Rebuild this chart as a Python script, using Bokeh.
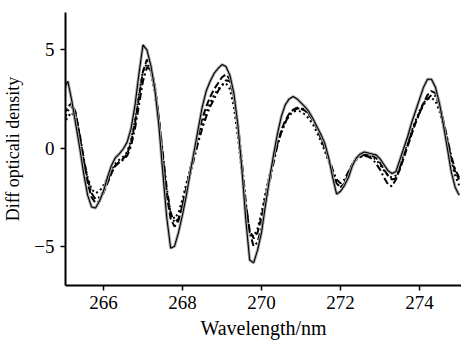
from bokeh.plotting import figure
from bokeh.models import Range1d, FixedTicker, ColumnDataSource
from bokeh.embed import file_html
from bokeh.resources import INLINE

wavelength = [
    265.0, 265.1, 265.2, 265.3, 265.4, 265.5, 265.6, 265.7, 265.8, 265.9,
    266.0, 266.1, 266.2, 266.3, 266.4, 266.5, 266.6, 266.7, 266.8, 266.9,
    267.0, 267.1, 267.2, 267.3, 267.4, 267.5, 267.6, 267.7, 267.8, 267.9,
    268.0, 268.1, 268.2, 268.3, 268.4, 268.5, 268.6, 268.7, 268.8, 268.9,
    269.0, 269.1, 269.2, 269.3, 269.4, 269.5, 269.6, 269.7, 269.8, 269.9,
    270.0, 270.1, 270.2, 270.3, 270.4, 270.5, 270.6, 270.7, 270.8, 270.9,
    271.0, 271.1, 271.2, 271.3, 271.4, 271.5, 271.6, 271.7, 271.8, 271.9,
    272.0, 272.1, 272.2, 272.3, 272.4, 272.5, 272.6, 272.7, 272.8, 272.9,
    273.0, 273.1, 273.2, 273.3, 273.4, 273.5, 273.6, 273.7, 273.8, 273.9,
    274.0, 274.1, 274.2, 274.3, 274.4, 274.5, 274.6, 274.7, 274.8, 274.9,
    275.0,
]

series_solid = [
    3.0, 3.4, 2.4, 1.2, 0.0, -1.3, -2.4, -3.0, -3.05, -2.7,
    -2.2, -1.5, -0.9, -0.5, -0.3, -0.05, 0.3, 1.0, 2.2, 3.8,
    5.25, 5.0, 4.2, 3.0, 1.2, -1.2, -3.5, -5.1, -5.0, -4.3,
    -3.4, -2.4, -1.2, -0.1, 1.0, 2.1, 2.9, 3.4, 3.8, 4.05,
    4.25, 4.15, 3.7, 2.8, 1.2, -1.0, -3.6, -5.7, -5.85, -5.2,
    -4.3, -2.9, -1.6, -0.4, 0.7, 1.6, 2.2, 2.5, 2.62, 2.5,
    2.3, 2.1, 1.85, 1.5, 1.1, 0.7, 0.25, -0.5, -1.5, -2.35,
    -2.2, -1.9, -1.5, -0.9, -0.5, -0.3, -0.2, -0.25, -0.3, -0.35,
    -0.55, -0.85, -1.15, -1.3, -1.2, -0.6, 0.0, 0.6, 1.3, 1.9,
    2.5, 3.1, 3.5, 3.5, 3.1, 2.3, 1.2, 0.0, -1.2, -2.0,
    -2.4,
]

series_dashed = [
    1.7, 2.1, 2.3, 1.8, 0.6, -0.7, -1.8, -2.5, -2.8, -2.7,
    -2.3, -1.8, -1.3, -0.9, -0.7, -0.55, -0.3, 0.3, 1.3, 2.6,
    3.9, 4.5, 4.2, 3.2, 1.6, -0.4, -2.4, -3.6, -4.0, -3.7,
    -2.9, -2.0, -1.1, -0.2, 0.7, 1.5, 2.1, 2.6, 3.0, 3.3,
    3.6, 3.75, 3.5, 2.6, 1.1, -0.9, -2.9, -4.2, -4.6, -4.3,
    -3.5, -2.5, -1.5, -0.6, 0.2, 0.9, 1.4, 1.75, 1.95, 2.05,
    2.0, 1.9, 1.7, 1.4, 1.0, 0.5, 0.0, -0.6, -1.3, -1.8,
    -2.0, -1.8, -1.3, -0.8, -0.5, -0.4, -0.35, -0.35, -0.4, -0.5,
    -0.75, -1.1, -1.4, -1.6, -1.55, -1.1, -0.5, 0.1, 0.7, 1.3,
    1.8, 2.3, 2.7, 2.9, 2.8, 2.3, 1.4, 0.4, -0.5, -1.2,
    -1.6,
]

series_dashdot = [
    1.4, 1.9, 2.1, 1.7, 0.7, -0.5, -1.6, -2.3, -2.6, -2.5,
    -2.2, -1.7, -1.2, -0.9, -0.75, -0.6, -0.4, 0.1, 1.0, 2.2,
    3.4, 4.1, 4.0, 3.1, 1.6, -0.2, -2.0, -3.3, -3.8, -3.6,
    -2.9, -2.1, -1.3, -0.5, 0.3, 1.0, 1.6, 2.1, 2.5, 2.9,
    3.2, 3.45, 3.4, 2.7, 1.3, -0.6, -2.7, -4.3, -5.0, -4.8,
    -4.0, -2.9, -1.8, -0.8, 0.1, 0.8, 1.3, 1.7, 1.9, 2.0,
    2.05, 1.95, 1.75, 1.45, 1.05, 0.6, 0.1, -0.5, -1.1, -1.6,
    -1.8, -1.6, -1.2, -0.8, -0.55, -0.45, -0.4, -0.45, -0.55, -0.8,
    -1.1, -1.5, -1.85, -1.95, -1.6, -1.0, -0.4, 0.2, 0.8, 1.3,
    1.8, 2.2, 2.5, 2.7, 2.65, 2.2, 1.4, 0.5, -0.4, -1.1,
    -1.5,
]

series_dotted = [
    1.2, 1.6, 1.8, 1.4, 0.5, -0.6, -1.5, -2.1, -2.3, -2.2,
    -1.9, -1.5, -1.1, -0.8, -0.6, -0.45, -0.2, 0.4, 1.5, 2.8,
    3.9, 4.3, 3.9, 2.8, 1.2, -0.6, -2.2, -3.3, -3.6, -3.3,
    -2.6, -1.8, -1.0, -0.2, 0.5, 1.2, 1.8, 2.3, 2.7, 3.0,
    3.2, 3.3, 3.0, 2.1, 0.6, -1.2, -3.0, -4.3, -4.5, -4.1,
    -3.3, -2.3, -1.4, -0.6, 0.2, 0.8, 1.3, 1.65, 1.85, 1.9,
    1.85, 1.7, 1.5, 1.2, 0.8, 0.35, -0.15, -0.7, -1.3, -1.8,
    -2.0, -1.8, -1.4, -0.9, -0.6, -0.45, -0.4, -0.4, -0.45, -0.6,
    -0.85, -1.15, -1.4, -1.5, -1.4, -0.9, -0.3, 0.3, 0.9, 1.4,
    1.9, 2.3, 2.5, 2.55, 2.4, 1.9, 1.1, 0.2, -0.7, -1.4,
    -1.9,
]

x_ticks = [266, 268, 270, 272, 274]
y_ticks = [-5, 0, 5]
y_tick_labels = {-5: "\u22125", 0: "0", 5: "5"}

FONT = "Liberation Serif"

p = figure(width=461, height=341, output_backend="svg", toolbar_location=None,
           x_range=Range1d(265.04, 275.06), y_range=Range1d(-7.0, 6.9),
           min_border_left=65, min_border_right=0, min_border_top=12,
           min_border_bottom=55)
p.outline_line_color = None
p.background_fill_color = "white"
p.border_fill_color = "white"
p.xgrid.visible = False
p.ygrid.visible = False

src = ColumnDataSource(dict(x=wavelength, s=series_solid, d=series_dashed,
                            dd=series_dashdot, dt=series_dotted))

p.line("x", "dt", source=src, line_color="black", line_width=2.0, line_dash="2 3")
p.line("x", "dd", source=src, line_color="black", line_width=2.0, line_dash="7 3 2 3")
p.line("x", "d", source=src, line_color="black", line_width=2.0, line_dash="7 3")
p.line("x", "s", source=src, line_color="#aaaaaa", line_width=3.0)
p.line("x", "s", source=src, line_color="black", line_width=1.1)

for ax in (p.xaxis[0], p.yaxis[0]):
    ax.axis_line_color = "black"
    ax.axis_line_width = 2
    ax.major_tick_line_color = "black"
    ax.major_tick_line_width = 1.5
    ax.major_tick_in = 0
    ax.major_tick_out = 5
    ax.minor_tick_line_color = None
    ax.major_label_text_font = FONT
    ax.major_label_text_font_size = "19px"
    ax.major_label_text_color = "black"
    ax.axis_label_text_font = FONT
    ax.axis_label_text_font_style = "normal"
    ax.axis_label_text_color = "black"

p.xaxis[0].axis_label_text_font_size = "20px"
p.yaxis[0].axis_label_text_font_size = "18px"
p.xaxis[0].ticker = FixedTicker(ticks=x_ticks)
p.yaxis[0].ticker = FixedTicker(ticks=y_ticks)
p.yaxis[0].major_label_overrides = y_tick_labels
p.xaxis[0].axis_label = "Wavelength/nm"
p.yaxis[0].axis_label = "Diff opticali density"
p.xaxis[0].major_label_standoff = 5
p.xaxis[0].axis_label_standoff = 5
p.yaxis[0].major_label_standoff = 6
p.yaxis[0].axis_label_standoff = 8

open("out.html", "w").write(file_html(p, INLINE))
